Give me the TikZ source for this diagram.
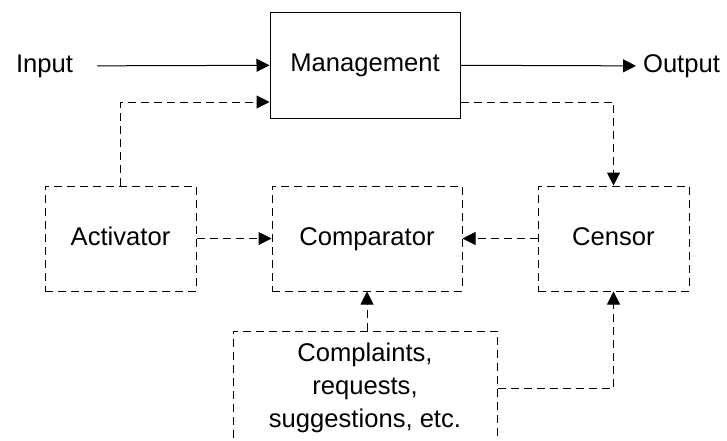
\documentclass[tikz,border=0pt]{standalone}
\usepackage{fontspec}
\setmainfont{Liberation Sans}
\usetikzlibrary{arrows.meta,calc}

\tikzset{
  box/.style={draw, line width=0.5pt, inner sep=0pt, text height=9.2pt, text depth=2.7pt},
  dbox/.style={box, dash pattern=on 4pt off 2.5pt},
  flow/.style={line width=0.5pt, -{Triangle[length=6.5pt,width=6.5pt]}},
  dflow/.style={flow, dash pattern=on 4pt off 2.5pt}
}

\begin{document}
\begin{tikzpicture}[x=0.5pt, y=-0.5pt, font=\fontsize{12.8}{16.5}\selectfont]
\clip (0,0) rectangle (727,440);
\node (1) at (44.5,66) {Input};
\node[box, minimum width=95pt, minimum height=53pt] (2) at (365,65) {Management};
\node (7) at (681.5,66) {Output};
\node[dbox, minimum width=75.5pt, minimum height=52.5pt] (3) at (120.5,238.5) {Activator};
\node[dbox, minimum width=95pt, minimum height=52.5pt] (4) at (367,238.5) {Comparator};
\node[dbox, minimum width=75.5pt, minimum height=52.5pt] (5) at (613.5,238.5) {Censor};
\node[dbox, text height=, text depth=, align=center, minimum width=132pt, minimum height=57pt] (6) at (365,388) {Complaints,\\requests,\\suggestions, etc.};

\draw[flow, shorten <=8.5pt] (1) -- (2);
\draw[flow] (2) -- (7);
\draw[dflow] (3.north) |- ([yshift=-18.5pt]2.west);
\draw[dflow] ([yshift=-18.5pt]2.east) -| (5.north);
\draw[dflow] (3) -- (4);
\draw[dflow] (5) -- (4);
\draw[dflow] (4.south |- 6.north) -- (4.south);
\draw[dflow] (6.east) -| (5.south);
\end{tikzpicture}
\end{document}
